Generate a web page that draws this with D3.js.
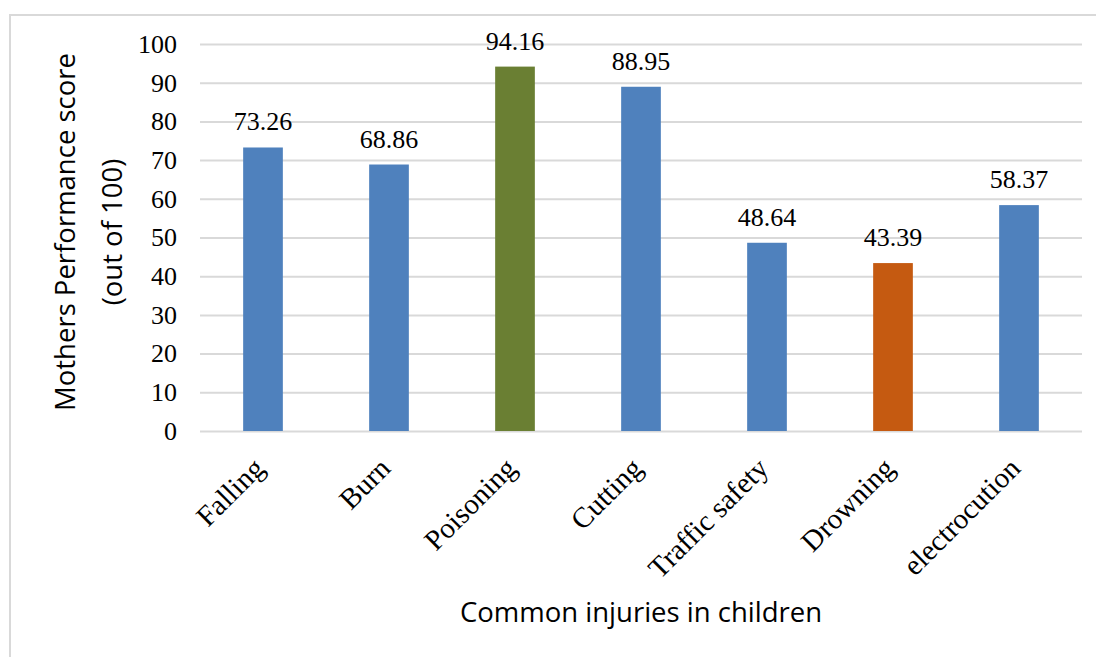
<!DOCTYPE html>
<html>
<head>
<meta charset="utf-8">
<script src="https://cdn.jsdelivr.net/npm/d3@7"></script>
<style>
  html, body { margin: 0; padding: 0; background: #fff; }
  svg { display: block; }
  .serif { font-family: "Liberation Serif", "Times New Roman", serif; font-size: 26px; fill: #000; }
  .cat { font-family: "Liberation Serif", "Times New Roman", serif; font-size: 29px; fill: #000; }
  .title { font-family: "Open Sans", sans-serif; font-size: 27.5px; fill: #000; }
</style>
</head>
<body>
<script>
// Mothers' performance scores by type of childhood injury
const categories = ["Falling", "Burn", "Poisoning", "Cutting", "Traffic safety", "Drowning", "electrocution"];
const scores = [73.26, 68.86, 94.16, 88.95, 48.64, 43.39, 58.37];
const barColors = ["#4F81BD", "#4F81BD", "#6A7F33", "#4F81BD", "#4F81BD", "#C55A11", "#4F81BD"];
const yTicks = [0, 10, 20, 30, 40, 50, 60, 70, 80, 90, 100];

const W = 1096, H = 657;
const plot = { left: 200, right: 1082, top: 44, bottom: 431 };

const svg = d3.select("body").append("svg")
  .attr("width", W).attr("height", H);

// chart frame
svg.append("rect")
  .attr("x", 10).attr("y", 15)
  .attr("width", W + 20).attr("height", H + 20)
  .attr("fill", "#fff")
  .attr("stroke", "#D9D9D9").attr("stroke-width", 2);

const x = d3.scaleBand()
  .domain(categories)
  .range([plot.left, plot.right])
  .paddingInner(0.685)
  .paddingOuter(0.3425);

const y = d3.scaleLinear()
  .domain([0, 100])
  .range([plot.bottom, plot.top]);

// horizontal gridlines + y tick labels
const yAxis = d3.axisLeft(y)
  .tickValues(yTicks)
  .tickSize(-(plot.right - plot.left))
  .tickPadding(23)
  .tickFormat(d3.format("d"));

const gy = svg.append("g")
  .attr("transform", `translate(${plot.left},0)`)
  .call(yAxis)
  .attr("font-family", null).attr("font-size", null);
gy.select(".domain").remove();
gy.selectAll(".tick line").attr("stroke", "#D9D9D9").attr("stroke-width", 2);
gy.selectAll(".tick text").attr("class", "serif").attr("fill", null);

// bars
svg.append("g").selectAll("rect")
  .data(categories)
  .join("rect")
  .attr("x", d => x(d))
  .attr("y", (d, i) => y(scores[i]))
  .attr("width", x.bandwidth())
  .attr("height", (d, i) => y(0) - y(scores[i]))
  .attr("fill", (d, i) => barColors[i]);

// value labels
svg.append("g").selectAll("text")
  .data(categories)
  .join("text")
  .attr("class", "serif")
  .attr("x", d => x(d) + x.bandwidth() / 2)
  .attr("y", (d, i) => y(scores[i]) - 17)
  .attr("text-anchor", "middle")
  .text((d, i) => scores[i].toFixed(2));

// category labels, rotated
const xAxis = d3.axisBottom(x).tickSize(0).tickPadding(0);
const gx = svg.append("g")
  .attr("transform", `translate(0,${plot.bottom})`)
  .call(xAxis)
  .attr("font-family", null).attr("font-size", null);
gx.select(".domain").remove();
gx.selectAll(".tick text")
  .attr("class", "cat")
  .attr("fill", null)
  .attr("text-anchor", "end")
  .attr("y", 0)
  .attr("dy", null)
  .attr("transform", "translate(3,39) rotate(-45)");

// axis titles
svg.append("text")
  .attr("class", "title")
  .attr("x", 641).attr("y", 622)
  .attr("text-anchor", "middle")
  .text("Common injuries in children");

const yTitle = svg.append("text")
  .attr("class", "title")
  .attr("transform", "translate(0,232) rotate(-90)")
  .attr("text-anchor", "middle");
yTitle.append("tspan").attr("x", 0).attr("y", 75).text("Mothers Performance score");
yTitle.append("tspan").attr("x", 0).attr("y", 122).text("(out of 100)");
</script>
</body>
</html>
